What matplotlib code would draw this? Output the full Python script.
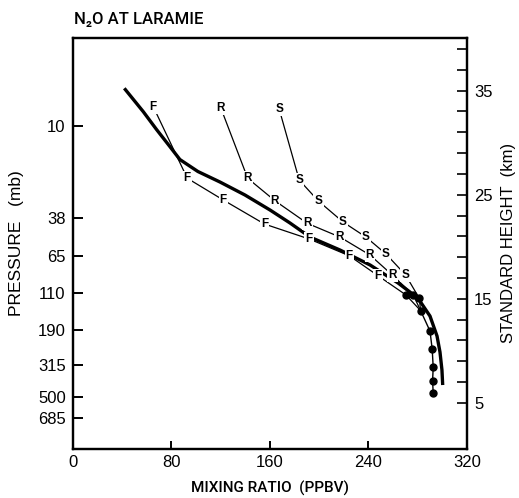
import matplotlib
matplotlib.use("Agg")
import matplotlib.pyplot as plt
from matplotlib import font_manager

# ---------------- data ----------------
thick_ppbv = [41.9, 57.3, 68.1, 77.6, 87.0, 101.6, 119.5, 139.8, 160.1, 176.3,
              192.5, 216.9, 241.3, 264.0, 280.1, 289.9, 295.6, 298.0, 299.6, 300.2]
thick_km = [35.23, 32.98, 31.26, 29.82, 28.38, 27.23, 26.22, 24.97, 23.53, 22.28,
            20.93, 19.68, 18.24, 16.51, 15.06, 13.33, 11.41, 9.87, 8.14, 6.70]

f_ppbv = [65.4, 93.0, 122.2, 155.6, 191.9, 224.4, 247.9]
f_km = [33.46, 26.58, 24.49, 22.18, 20.74, 19.13, 17.20]
r_ppbv = [120.3, 142.0, 164.1, 190.3, 216.8, 241.2, 259.3]
r_km = [33.31, 26.58, 24.42, 22.25, 20.93, 19.20, 17.28]
s_ppbv = [167.6, 183.8, 199.4, 219.3, 237.9, 254.2, 270.1]
s_km = [33.21, 26.41, 24.39, 22.38, 20.93, 19.30, 17.28]

f_dot_ppbv, f_dot_km = 270.4, 15.36
r_dot_ppbv, r_dot_km = 276.3, 15.36
s_dot_ppbv, s_dot_km = 281.2, 15.04

tail_ppbv = [282.3, 289.9, 291.7, 292.5, 292.0, 292.5]
tail_km = [13.85, 11.89, 10.13, 8.40, 7.12, 5.90]

pressure_labels = ["10", "38", "65", "110", "190", "315", "500", "685"]
pressure_heights_km = [31.63, 22.73, 19.13, 15.58, 11.99, 8.63, 5.58, 3.56]

x_ticks = [0, 80, 160, 240, 320]
height_major = [5, 15, 25, 35]
height_minor = [7, 9, 11, 13, 17, 19, 21, 23, 27, 29, 31, 33, 37, 39]

# ---------------- fonts ----------------
names = {f.name for f in font_manager.fontManager.ttflist}
narrow = "Liberation Sans Narrow" if "Liberation Sans Narrow" in names else "Roboto"
plain = "Liberation Sans"

fig = plt.figure(figsize=(5.19, 4.98), dpi=100)
ax = fig.add_axes([0.140, 0.0984, 0.760, 0.826])

ax.set_xlim(0, 320)
ax.set_ylim(0.55, 40.1)

for s in ax.spines.values():
    s.set_linewidth(1.6)

# thick curve
ax.plot(thick_ppbv, thick_km, color="black", lw=2.4, solid_capstyle="butt",
        solid_joinstyle="round", zorder=3)

# F, R, S series
for xs, ys, dx, dy, lab in [(f_ppbv, f_km, f_dot_ppbv, f_dot_km, "F"),
                             (r_ppbv, r_km, r_dot_ppbv, r_dot_km, "R"),
                             (s_ppbv, s_km, s_dot_ppbv, s_dot_km, "S")]:
    ax.plot(xs + [dx, tail_ppbv[0]], ys + [dy, tail_km[0]], color="black", lw=0.9, zorder=2)
    ax.plot([dx], [dy], "o", color="black", ms=5, zorder=4)
    for x, y in zip(xs, ys):
        ax.text(x, y, lab, ha="center", va="center", fontsize=8.5, fontweight="bold",
                family=[plain, "DejaVu Sans"], zorder=5,
                bbox=dict(boxstyle="square,pad=0.1", fc="white", ec="none"))

ax.plot(tail_ppbv, tail_km, "o-", color="black", lw=1.0, ms=5, zorder=4)

# x axis
ax.set_xticks(x_ticks)
ax.set_xticklabels([str(v) for v in x_ticks], fontsize=12, family=plain)
ax.tick_params(axis="x", direction="in", length=6, width=1.4, pad=4, top=False)

# left pressure axis
ax.set_yticks(pressure_heights_km)
ax.set_yticklabels(pressure_labels, fontsize=12, family=plain)
ax.tick_params(axis="y", direction="in", length=7, width=1.4, pad=5, right=False)

# right height axis
ax2 = ax.twinx()
ax2.set_ylim(ax.get_ylim())
ax2.set_yticks(height_major)
ax2.set_yticks(height_minor, minor=True)
ax2.set_yticklabels([str(v) for v in height_major], fontsize=12, family=plain)
ax2.tick_params(axis="y", which="both", direction="in", length=7, width=1.2, pad=5)
for s in ax2.spines.values():
    s.set_linewidth(1.6)

ax.set_xlabel("MIXING RATIO  (PPBV)", labelpad=8, fontsize=11,
              family=[narrow, "DejaVu Sans"], fontweight="medium")
ax.set_ylabel("PRESSURE   (mb)", labelpad=10, fontsize=12.5, family=[plain, "DejaVu Sans"])
ax2.set_ylabel("STANDARD HEIGHT  (km)", labelpad=6, fontsize=12, family=[plain, "DejaVu Sans"])

fig.text(0.142, 0.945, "N\u2082O AT LARAMIE", fontsize=12, family=[narrow, "DejaVu Sans"],
         fontweight="medium", ha="left", va="bottom")

fig.savefig("out.png", dpi=100)
